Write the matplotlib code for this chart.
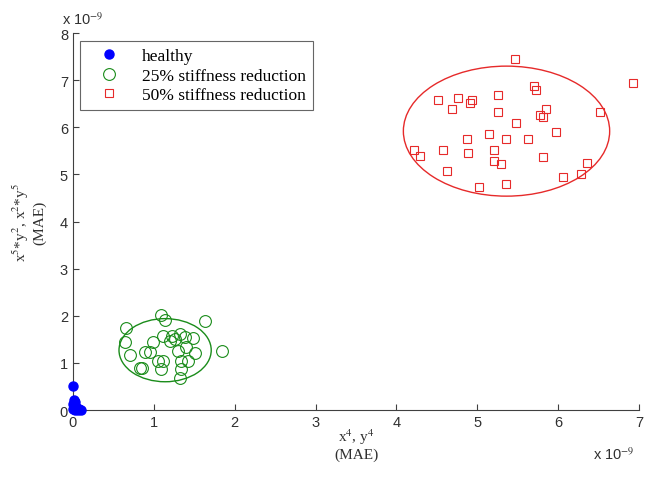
"""Scatter of damage features (MAE) for healthy / 25% / 50% stiffness reduction."""

import matplotlib
matplotlib.use("Agg")
import matplotlib.pyplot as plt
from matplotlib.patches import Ellipse

# values in units of 1e-9
healthy_x = [0.00, 0.01, 0.03, 0.00, 0.02, 0.05, 0.08, 0.00, 0.03, 0.06, 0.10]
healthy_y = [0.50, 0.22, 0.18, 0.12, 0.08, 0.05, 0.03, 0.02, 0.00, 0.01, 0.00]

red25_x = [1.09, 1.14, 1.63, 0.66, 1.11, 1.22, 1.32, 1.38, 1.49, 1.20, 0.99, 0.65, 1.26,
           1.40, 1.30, 1.51, 0.89, 0.95, 0.70, 1.05, 1.11, 1.34, 1.42, 0.83, 0.85, 1.09,
           1.34, 1.33, 1.84]
red25_y = [2.02, 1.92, 1.90, 1.74, 1.58, 1.58, 1.61, 1.54, 1.53, 1.47, 1.44, 1.44, 1.50,
           1.33, 1.26, 1.22, 1.24, 1.24, 1.17, 1.03, 1.03, 1.03, 1.03, 0.89, 0.90, 0.87,
           0.87, 0.69, 1.25]

red50_x = [5.47, 6.92, 5.70, 5.72, 4.51, 4.76, 4.93, 4.91, 5.25, 4.68, 5.25, 5.85, 5.77,
           5.81, 6.51, 5.48, 5.97, 5.14, 4.87, 5.35, 5.63, 4.22, 4.29, 4.57, 4.89, 5.21,
           5.20, 5.29, 5.81, 4.63, 6.36, 6.28, 6.06, 5.02, 5.35]
red50_y = [7.45, 6.94, 6.87, 6.80, 6.59, 6.62, 6.59, 6.51, 6.69, 6.38, 6.33, 6.39, 6.26,
           6.21, 6.33, 6.09, 5.90, 5.86, 5.75, 5.75, 5.76, 5.52, 5.40, 5.52, 5.46, 5.52,
           5.28, 5.22, 5.38, 5.07, 5.24, 5.02, 4.95, 4.74, 4.79]

# confidence ellipses: (center x, center y, width, height)
ell25 = (1.14, 1.27, 1.14, 1.34)
ell50 = (5.36, 5.92, 2.55, 2.76)

GREEN = "#1a8c1a"
RED = "#e62a2a"

plt.rcParams["mathtext.fontset"] = "stix"

fig = plt.figure(figsize=(6.45, 4.81), dpi=100)
ax = fig.add_axes([0.113, 0.1455, 0.878, 0.7835])

ax.plot(healthy_x, healthy_y, "o", color="blue", markersize=6.5,
        linestyle="none", clip_on=False, label="healthy", zorder=3)
ax.plot(red25_x, red25_y, "o", mfc="none", mec=GREEN, mew=0.8, markersize=8.5,
        linestyle="none", clip_on=False, label="25% stiffness reduction")
ax.plot(red50_x, red50_y, "s", mfc="none", mec=RED, mew=0.8, markersize=6,
        linestyle="none", clip_on=False, label="50% stiffness reduction")

for (cx, cy, w, h), col in [(ell25, GREEN), (ell50, RED)]:
    ax.add_patch(Ellipse((cx, cy), w, h, fill=False, edgecolor=col, linewidth=1.0))

ax.set_xlim(0, 7)
ax.set_ylim(0, 8)
ax.set_xticks(range(0, 8))
ax.set_yticks(range(0, 9))
ax.spines["top"].set_visible(False)
ax.spines["right"].set_visible(False)
for s in ("left", "bottom"):
    ax.spines[s].set_color("#404040")
    ax.spines[s].set_linewidth(0.8)
ax.tick_params(direction="in", length=4, width=0.8, color="#404040",
               labelsize=10.5, labelcolor="#303030")
for t in ax.get_xticklabels() + ax.get_yticklabels():
    t.set_family("Liberation Sans")

# MATLAB-style exponent labels
ax.text(-0.02, 1.015, r"x 10$^{-9}$", transform=ax.transAxes, ha="left", va="bottom",
        fontsize=10.5, family="Liberation Sans", color="#303030")
ax.text(0.918, -0.115, r"x 10$^{-9}$", transform=ax.transAxes, ha="left", va="center",
        fontsize=10.5, family="Liberation Sans", color="#303030")

ax.set_xlabel("x$^4$, y$^4$\n(MAE)", family="Liberation Serif", fontsize=11,
              color="#303030", linespacing=1.2, labelpad=-2)
ax.set_ylabel("x$^5$*y$^2$, x$^2$*y$^5$\n(MAE)", family="Liberation Serif", fontsize=11,
              color="#303030", linespacing=1.1, labelpad=10)

leg = ax.legend(loc="upper left", bbox_to_anchor=(0.012, 0.979), borderaxespad=0,
                fancybox=False, prop={"family": "Liberation Serif", "size": 12.5},
                handletextpad=0.6, borderpad=0.4, labelspacing=0.2, handlelength=2.6)
leg.get_frame().set_edgecolor("#404040")
leg.get_frame().set_linewidth(0.8)

fig.savefig("out.png", dpi=100)
